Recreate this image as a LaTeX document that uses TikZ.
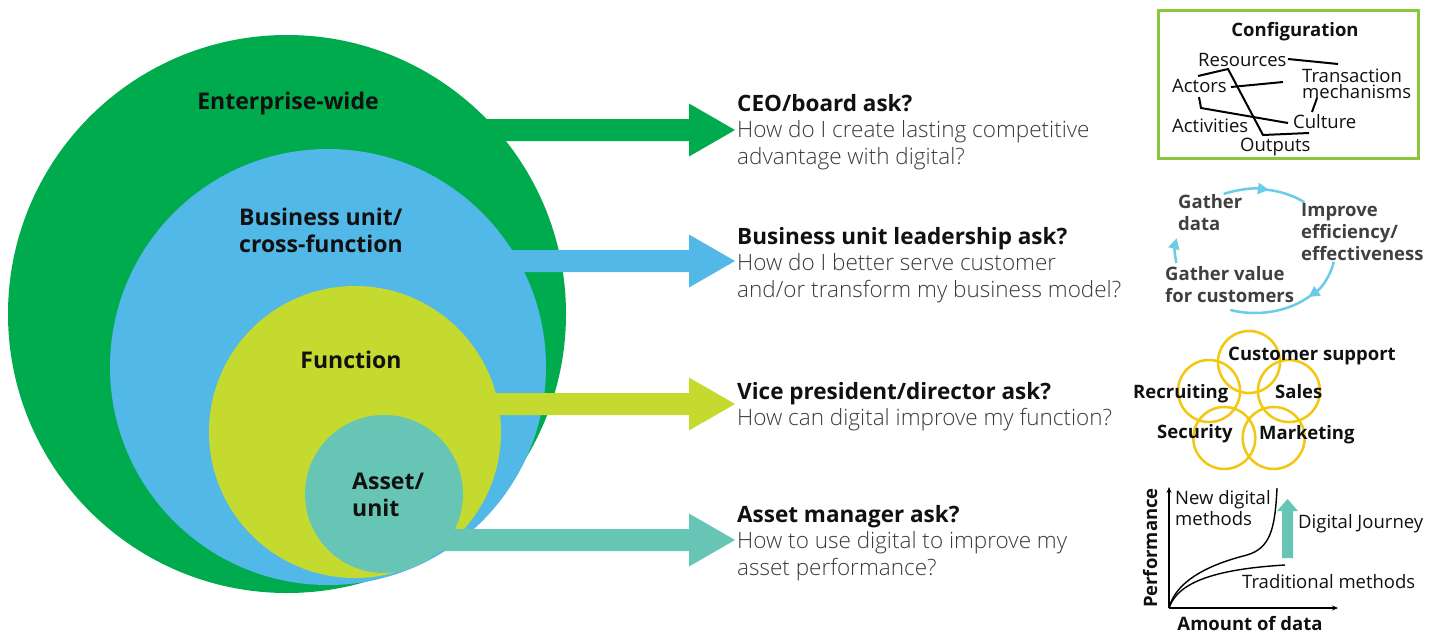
\documentclass[tikz,border=0pt]{standalone}
\usepackage{fontspec}
\setmainfont{Open Sans}
\IfFontExistsTF{Open Sans Light}{\newfontfamily\lightfont{Open Sans Light}}{\newfontfamily\lightfont{Open Sans}}
\usetikzlibrary {arrows.meta}
\definecolor{ent-green}{HTML}{00AB4E}
\definecolor{bu-blue}{HTML}{52B8E7}
\definecolor{fn-lime}{HTML}{C4DA2E}
\definecolor{asset-teal}{HTML}{67C5B5}
\definecolor{cfg-green}{HTML}{8CC63F}
\definecolor{cyc-blue}{HTML}{6ACCE6}
\definecolor{fn-gold}{HTML}{F4C70F}
\definecolor{ink}{HTML}{111111}
\definecolor{body-gray}{HTML}{3A3A3A}
\definecolor{pict-gray}{HTML}{404040}
\newcommand{\drawRing}[4]{
	\fill[#4] (#1,#2) circle[radius=#3];
}
\newcommand{\drawAsk}[7]{
	\fill[#3] (#2,#1-11) -- (689,#1-11) -- (689,#1-26.5) -- (735,#1) -- (689,#1+26.5) -- (689,#1+11) -- (#2,#1+11) -- cycle;
	\node[ask] (#4) at (737,#5-18.55) {\strut{\normalfont\bfseries\color{ink}#6}\\#7};
}

\begin{document}
\begin{tikzpicture}[x=1pt, y=-1pt,
	ask/.style={anchor=north west, inner sep=0, align=left, text=body-gray, font=\lightfont\fontsize{22.5}{26.5}\selectfont},
	ring/.style={anchor=north west, inner sep=0, align=left, text=ink, font=\bfseries\fontsize{23}{27}\selectfont},
	cfgword/.style={anchor=base west, inner sep=0, text=ink, font=\fontsize{18.5}{21}\selectfont},
	cfgline/.style={line width=2pt, black},
	cycword/.style={anchor=north west, inner sep=0, align=left, text=pict-gray, font=\bfseries\fontsize{18.5}{22}\selectfont},
	cycarrow/.style={line width=2.5pt, cyc-blue},
	petal/.style={circle, draw=fn-gold, line width=2.5pt, minimum size=62pt, inner sep=0},
	petword/.style={anchor=base west, inner sep=0, text=ink, font=\bfseries\fontsize{18.5}{21}\selectfont},
	axis/.style={line width=1.3pt, black, -{Stealth[length=6pt, width=5pt]}},
	curve/.style={line width=1.4pt, black}]

	\fill[white] (0,0) rectangle (1440,633);
	\useasboundingbox (0,0) rectangle (1440,633);

	% the four nested rings
	\drawRing{287}{314}{279}{ent-green}
	\drawRing{328}{367}{218}{bu-blue}
	\drawRing{355}{432}{146}{fn-lime}
	\drawRing{384}{494}{79}{asset-teal}

	\drawAsk{130}{400}{ent-green}{ceo}{111}{CEO/board ask?}{How do I create lasting competitive\\advantage with digital?}
	\drawAsk{261}{450}{bu-blue}{bul}{244}{Business unit leadership ask?}{How do I better serve customer\\and/or transform my business model?}
	\drawAsk{404}{420}{fn-lime}{vp}{399}{Vice president/director ask?}{How can digital improve my function?}
	\drawAsk{540}{400}{asset-teal}{am}{522}{Asset manager ask?}{How to use digital to improve my\\asset performance?}

	\node[ring, anchor=base] (entLbl) at (288,109) {Enterprise-wide};
	\node[ring] (buLbl) at (239,206.1) {\strut Business unit/\\cross-function};
	\node[ring, anchor=base] (fnLbl) at (351,368) {Function};
	\node[ring] (assetLbl) at (352,470.1) {\strut Asset/\\unit};

	% Configuration box
	\draw[cfg-green, line width=3pt] (1158,10) rectangle (1418,158);
	\node[cfgword, anchor=base, font=\bfseries\fontsize{18.5}{21}\selectfont] (cfgTitle) at (1295,36) {Configuration};
	\node[cfgword] (res) at (1198,66) {Resources};
	\node[cfgword] (trans) at (1302,82) {Transaction};
	\node[cfgword] (mech) at (1302,98) {mechanisms};
	\node[cfgword] (act) at (1172,92) {Actors};
	\node[cfgword] (cul) at (1293,128) {Culture};
	\node[cfgword] (acts) at (1172,132) {Activities};
	\node[cfgword] (out) at (1240,151) {Outputs};
	\draw[cfgline] (1288,59) -- (1338,64);
	\draw[cfgline] (1198,76) -- (1228,69) -- (1263,135) -- (1309,133);
	\draw[cfgline] (1231,87) -- (1283,82);
	\draw[cfgline] (1199,97) -- (1201,108) -- (1288,123);
	\draw[cfgline] (1317,98) -- (1312,112);

	% data cycle
	\coordinate (cyc) at (1255,251);
	\draw[cycarrow, -{Triangle[length=11pt, width=11pt]}] (cyc) ++(-113:80 and 62) arc[start angle=-113, end angle=-80, x radius=80, y radius=62];
	\draw[cycarrow] (cyc) ++(-82:80 and 62) arc[start angle=-82, end angle=-52, x radius=80, y radius=62];
	\draw[cycarrow, -{Triangle[length=11pt, width=11pt]}] (cyc) ++(10:80 and 62) arc[start angle=10, end angle=48, x radius=80, y radius=62];
	\draw[cycarrow] (cyc) ++(46:80 and 62) arc[start angle=46, end angle=108, x radius=80, y radius=62];
	\draw[cycarrow, -{Triangle[length=11pt, width=11pt]}] (cyc) ++(169:80 and 62) arc[start angle=169, end angle=192, x radius=80, y radius=62];
	\node[cycword] (gdata) at (1178,193) {\strut Gather\\data};
	\node[cycword] (impr) at (1301,201) {\strut Improve\\efficiency/\\effectiveness};
	\node[cycword] (gval) at (1165,265) {\strut Gather value\\for customers};

	% functions
	\coordinate (pent) at (1249,404);
	\foreach \a/\n in {-90/cs, -162/rec, -18/sal, -234/sec, -306/mkt}
		\path (pent) ++(\a:42) node[petal] (petal-\n) {};
	\node[petword] (csLbl) at (1228,360) {Customer support};
	\node[petword] (recLbl) at (1133,398) {Recruiting};
	\node[petword] (salLbl) at (1275,398) {Sales};
	\node[petword] (secLbl) at (1157,438) {Security};
	\node[petword] (mktLbl) at (1259,439) {Marketing};

	% performance graph
	\coordinate (org) at (1169,608);
	\coordinate (ytop) at (1169,487);
	\coordinate (xend) at (1338,608);
	\draw[axis] (org) -- (ytop);
	\draw[axis] (org) -- (xend);
	\draw[curve] (org) .. controls (1174,588) and (1195,568) .. (1247,555) .. controls (1270,548) and (1275,530) .. (1277,488);
	\draw[curve] (org) .. controls (1176,588) and (1200,570) .. (1285,565);
	\fill[asset-teal] (1282,558) -- (1282,511) -- (1277,511) -- (1287.5,499) -- (1298,511) -- (1293,511) -- (1293,558) -- cycle;
	\node[petword, anchor=center, rotate=90] (perfLbl) at (1150,548) {Performance};
	\node[petword, anchor=center] (amtLbl) at (1250,623) {Amount of data};
	\node[cfgword, anchor=north west, align=left, font=\fontsize{18.5}{21}\selectfont] (newLbl) at (1175,490) {\strut New digital\\methods};
	\node[cfgword] (tradLbl) at (1242,588) {Traditional methods};
	\node[cfgword] (jrnLbl) at (1298,528) {Digital Journey};

\end{tikzpicture}
\end{document}
